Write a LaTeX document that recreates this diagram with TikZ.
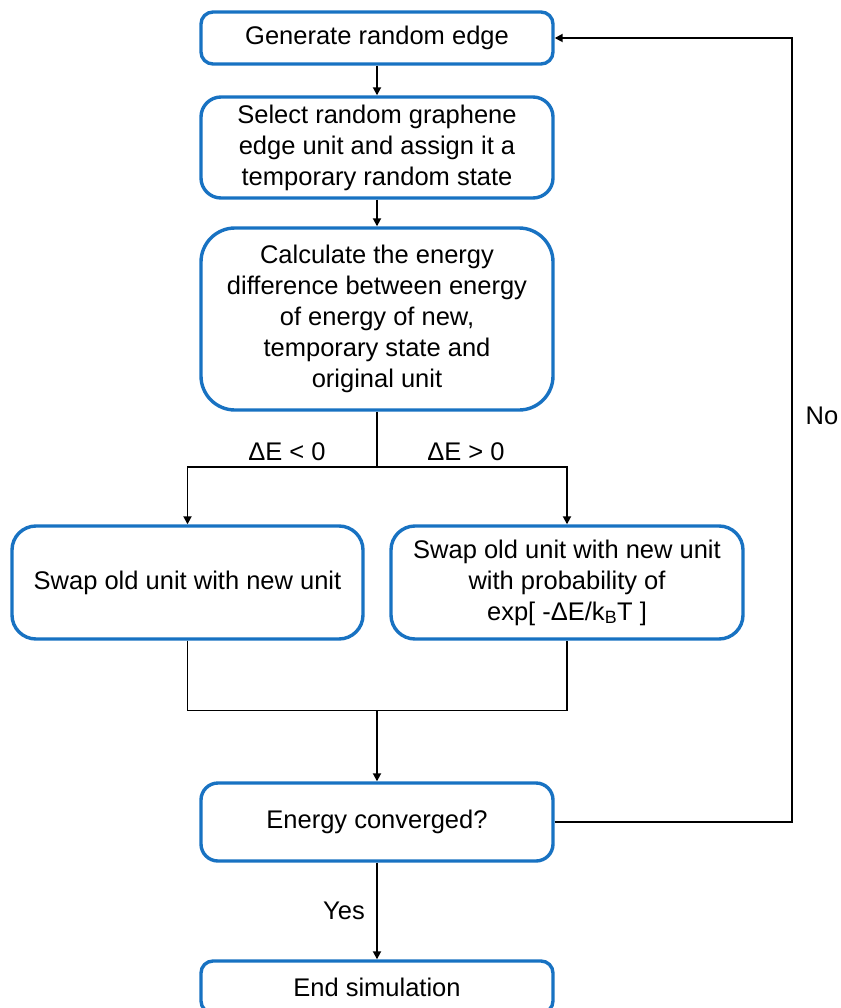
\documentclass[tikz,border=0pt]{standalone}
\usepackage{fontspec}
\setmainfont{Liberation Sans}
\usetikzlibrary{arrows.meta}
\definecolor{boxblue}{RGB}{24,114,194}
\begin{document}
\begin{tikzpicture}[x=1pt,y=-1pt,
  every node/.style={font=\fontsize{25.5}{31}\selectfont},
  stepbox/.style={draw=boxblue, line width=3.4pt, fill=white, align=center,
    inner sep=0pt, minimum width=352pt},
  flow/.style={draw=black, line width=1.8pt},
  arr/.style={flow, -{Triangle[width=8pt,length=8pt]}},
  lbl/.style={inner sep=0pt}]
\useasboundingbox (0,0) rectangle (840,1008);

\node[stepbox, minimum height=52pt, rounded corners=12pt] (gen) at (377,38) {Generate random edge};
\node[stepbox, minimum height=101pt, rounded corners=20pt] (sel) at (377,147.5)
  {Select random graphene\\edge unit and assign it a\\temporary random state};
\node[stepbox, minimum height=182pt, rounded corners=34pt] (calc) at (377,319)
  {Calculate the energy\\difference between energy\\of energy of new,\\temporary state and\\original unit};
\node[stepbox, minimum width=351pt, minimum height=113pt, rounded corners=24pt] (swapa) at (187.5,582.5)
  {Swap old unit with new unit};
\node[stepbox, minimum height=113pt, rounded corners=24pt] (swapb) at (567,582.5)
  {Swap old unit with new unit\\with probability of\\exp[ -ΔE/k\textsubscript{B}T ]};
\node[stepbox, minimum height=78pt, rounded corners=17pt] (conv) at (377,822) {Energy converged?};
\node[stepbox, minimum height=52pt, rounded corners=12pt] (stop) at (377,987) {End simulation};

\coordinate (split) at (377,467);
\coordinate (merge) at (377,710.5);
\coordinate (loop) at (792,822);

% sequence at the top
\draw[arr] (gen) -- (sel);
\draw[arr] (sel) -- (calc);

% branch on the sign of the energy change
\draw[flow] (calc.south) -- (split);
\draw[arr] (split) -| (swapa.north);
\draw[arr] (split) -| (swapb.north);
\node[lbl] (neg) at (287,452) {ΔE < 0};
\node[lbl] (pos) at (466,452) {ΔE > 0};

% join the two branches
\draw[flow] (swapa.south) |- (merge) -| (swapb.south);
\draw[arr] (merge) -- (conv.north);

% convergence test
\draw[arr] (conv.east) -- (loop) |- (gen.east);
\node[lbl] (no) at (822,416) {No};
\draw[arr] (conv) -- (stop);
\node[lbl] (yes) at (344,911) {Yes};
\end{tikzpicture}
\end{document}
